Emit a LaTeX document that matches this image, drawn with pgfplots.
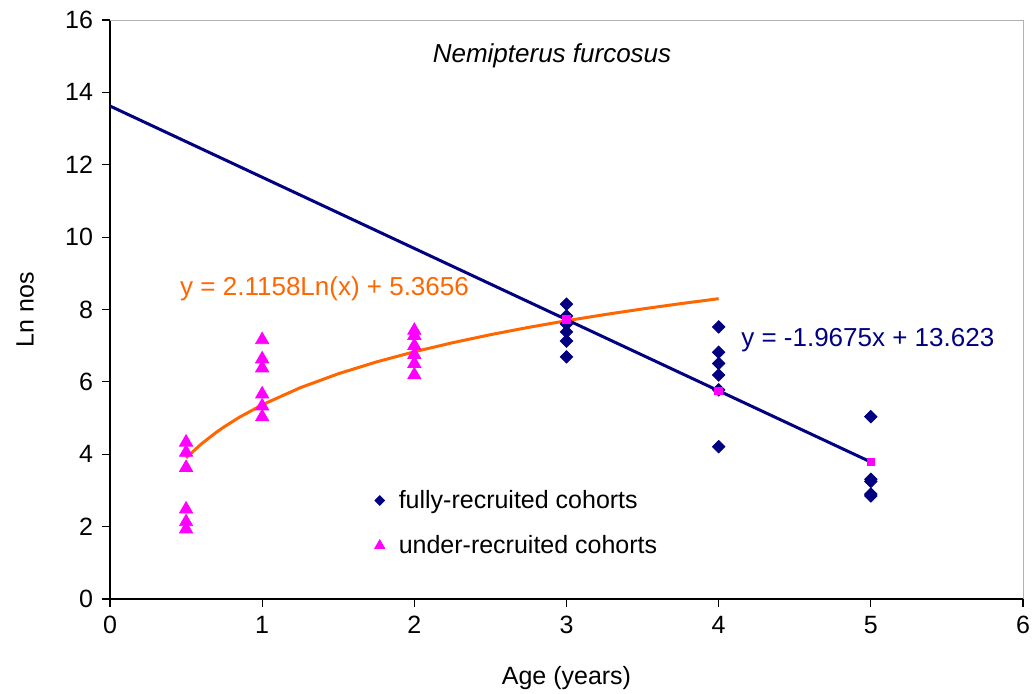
\documentclass[border=0pt]{standalone}
\usepackage{pgfplots}
\pgfplotsset{compat=1.18}
\usepackage{fontspec}
\setmainfont{Liberation Sans}

\definecolor{navyline}{RGB}{0,0,128}
\definecolor{orangeline}{RGB}{255,102,0}
\definecolor{magentapt}{RGB}{255,0,255}

\begin{document}
\begin{tikzpicture}
\begin{axis}[
  scale only axis,
  width=456.5pt, height=289.5pt,
  xmin=0, xmax=6, ymin=0, ymax=16,
  xtick={0,1,2,3,4,5,6},
  ytick={0,2,4,6,8,10,12,14,16},
  axis x line*=bottom, axis y line*=left,
  axis line style={black, line width=0.6pt, -},
  tick style={black, line width=0.6pt},
  tick align=outside,
  major tick length=4pt,
  font=\fontsize{12.5}{15}\selectfont,
  /pgf/number format/assume math mode=true,
  xlabel={Age (years)},
  ylabel={Ln nos},
  every axis x label/.style={at={(axis description cs:0.5,-0.136)}, anchor=center},
  every axis y label/.style={at={(axis description cs:-0.093,0.5)}, rotate=90, anchor=center},
  yticklabel style={xshift=-1pt},
  xticklabel style={yshift=-1pt},
  legend style={draw=none, fill=none, at={(axis description cs:0.2895,0.196)}, anchor=north west,
    row sep=8pt, font=\fontsize{12.5}{15}\selectfont, inner sep=0pt,
    nodes={inner sep=2pt},
    /tikz/every odd column/.append style={column sep=5pt}},
  legend cell align=left,
  clip=false,
]
% plot-area border on the open sides
\draw[gray!60, line width=0.5pt] (axis cs:0,16) -- (axis cs:6,16) -- (axis cs:6,0);

% fully-recruited cohorts
\addplot[only marks, color=navyline, mark=square*, mark size=2.2pt, mark options={rotate=45},
  legend image code/.code={\draw[navyline, mark=square*, mark size=1.7pt, mark options={rotate=45}] plot coordinates {(0,0)};}]
  coordinates {
  (3,8.15) (3,7.82) (3,7.60) (3,7.38) (3,7.13) (3,6.69)
  (4,7.52) (4,6.82) (4,6.51) (4,6.19) (4,5.78) (4,4.21)
  (5,5.04) (5,3.31) (5,3.25) (5,2.90) (5,2.85)
  };
\addlegendentry{fully-recruited cohorts}

% under-recruited cohorts
\addplot[only marks, color=magentapt, mark=triangle*, mark size=3.8pt,
  legend image code/.code={\draw[magentapt, mark=triangle*, mark size=2.9pt] plot coordinates {(0,0)};}]
  coordinates {
  (0.5,4.33) (0.5,4.05) (0.5,3.63) (0.5,2.48) (0.5,2.13) (0.5,1.93)
  (1,7.16) (1,6.63) (1,6.38) (1,5.66) (1,5.33) (1,5.03)
  (2,7.42) (2,7.28) (2,7.00) (2,6.75) (2,6.50) (2,6.19)
  };
\addlegendentry{under-recruited cohorts}

% logarithmic trend, y = 2.1158 ln(x) + 5.3656
\addplot[orangeline, line width=1.5pt, forget plot] coordinates {
  (0.5,3.899) (0.6,4.285) (0.7,4.611) (0.75,4.757) (0.85,5.022) (1,5.366)
  (1.25,5.838) (1.5,6.224) (1.75,6.550) (2,6.832) (2.25,7.081) (2.5,7.304)
  (2.75,7.506) (3,7.690) (3.25,7.859) (3.5,8.016) (3.75,8.162) (4,8.299)
  };

% linear regression, y = -1.9675x + 13.623
\addplot[navyline, line width=1.5pt, forget plot] coordinates {
  (0,13.623) (5,3.786)
  };

% fitted values at the fully-recruited ages
\addplot[only marks, color=magentapt, mark=square*, mark size=1.9pt, forget plot]
  coordinates { (3,7.721) (4,5.753) (5,3.786) };

\node[font=\fontsize{13}{15}\selectfont\itshape] at (axis cs:2.905,15.0) {Nemipterus furcosus};
\node[font=\fontsize{13}{15}\selectfont, text=orangeline] at (axis cs:1.41,8.57) {y = 2.1158Ln(x) + 5.3656};
\node[font=\fontsize{13}{15}\selectfont, text=navyline] at (axis cs:4.98,7.16) {y = -1.9675x + 13.623};
\end{axis}
\pgfresetboundingbox
\path[use as bounding box] (-55pt,-47pt) rectangle (463pt,299.5pt);
\end{tikzpicture}
\end{document}
